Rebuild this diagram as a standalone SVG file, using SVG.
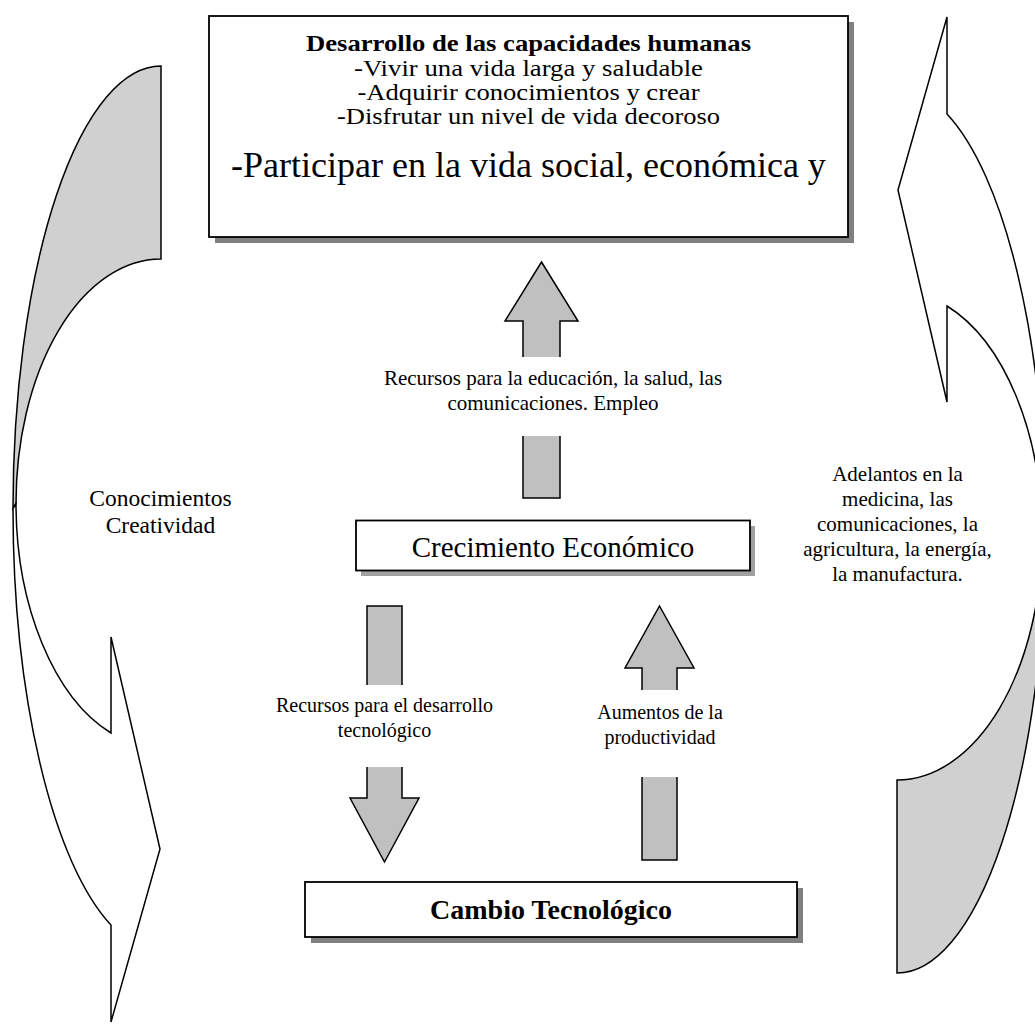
<svg xmlns="http://www.w3.org/2000/svg" width="1035" height="1028" viewBox="0 0 1035 1028">
<style>
text{font-family:"Liberation Serif","Times New Roman",serif;fill:#000;text-anchor:middle}
.box{fill:#fff;stroke:#000;stroke-width:1.8}
.shadow{fill:#808080}
.block{fill:#c0c0c0;stroke:#000;stroke-width:1.5;stroke-linejoin:miter}
.back{fill:#d0d0d0;stroke:#000;stroke-width:1.5}
.front{fill:#fff;stroke:#000;stroke-width:1.5}
.gap{fill:#fff}
.lbl{font-size:21px}
.lbl2{font-size:20px}
</style>
<rect width="1035" height="1028" fill="#fff"/>

<g id="connectors">
  <g id="curved-left">
    <path class="back" d="M161,66 A148,442.5 0 0 0 13,508.5 L16,503.5 A145,244.5 0 0 1 161,259 Z"/>
    <path class="front" d="M13,508.5 A148,442.5 0 0 0 111,925 L111,1022 L160,849 L111,637 L111,733 A145,244.5 0 0 1 16,503.5 Z"/>
  </g>
  <g id="curved-right" transform="rotate(180 529 519.5)">
    <path class="back" d="M161,66 A148,442.5 0 0 0 13,508.5 L16,503.5 A145,244.5 0 0 1 161,259 Z"/>
    <path class="front" d="M13,508.5 A148,442.5 0 0 0 111,925 L111,1022 L160,849 L111,637 L111,733 A145,244.5 0 0 1 16,503.5 Z"/>
  </g>
  <g id="arrow-econ-to-human">
    <polygon class="block" points="541.5,262 578,321 560,321 560,498 523,498 523,321 505,321"/>
    <rect class="gap" x="375" y="357" width="360" height="79"/>
    <text class="lbl" x="553" y="385">Recursos para la educación, la salud, las</text>
    <text class="lbl" x="553" y="410">comunicaciones. Empleo</text>
  </g>
  <g id="arrow-econ-to-tech">
    <polygon class="block" points="367,606 402,606 402,798 419,798 384.5,862 350,798 367,798"/>
    <rect class="gap" x="270" y="685" width="230" height="82"/>
    <text class="lbl2" x="384.5" y="712">Recursos para el desarrollo</text>
    <text class="lbl2" x="384.5" y="737">tecnológico</text>
  </g>
  <g id="arrow-tech-to-econ">
    <polygon class="block" points="659.5,606 694,668 677,668 677,860 642,860 642,668 625,668"/>
    <rect class="gap" x="590" y="690" width="140" height="87"/>
    <text class="lbl2" x="660" y="719">Aumentos de la</text>
    <text class="lbl2" x="660" y="744">productividad</text>
  </g>
  <g id="label-left">
    <text x="160.5" y="506" style="font-size:23.5px">Conocimientos</text>
    <text x="160.5" y="533" style="font-size:23.5px">Creatividad</text>
  </g>
  <g id="label-right">
    <text class="lbl" x="897.5" y="481">Adelantos en la</text>
    <text class="lbl" x="897.5" y="506">medicina, las</text>
    <text class="lbl" x="897.5" y="531">comunicaciones, la</text>
    <text class="lbl" x="897.5" y="556">agricultura, la energía,</text>
    <text class="lbl" x="897.5" y="581">la manufactura.</text>
  </g>
</g>

<g id="node-desarrollo">
  <rect class="shadow" x="215" y="22" width="639" height="221"/>
  <rect class="box" x="209" y="16" width="639" height="221"/>
  <text x="528.5" y="51" style="font-size:24px;font-weight:bold" textLength="445" lengthAdjust="spacingAndGlyphs">Desarrollo de las capacidades humanas</text>
  <text x="528.5" y="76" style="font-size:24px" textLength="349" lengthAdjust="spacingAndGlyphs">-Vivir una vida larga y saludable</text>
  <text x="528.5" y="100" style="font-size:24px" textLength="342" lengthAdjust="spacingAndGlyphs">-Adquirir conocimientos y crear</text>
  <text x="528.5" y="124" style="font-size:24px" textLength="383" lengthAdjust="spacingAndGlyphs">-Disfrutar un nivel de vida decoroso</text>
  <text x="528.5" y="177" style="font-size:36px">-Participar en la vida social, económica y</text>
</g>

<g id="node-crecimiento">
  <rect x="361" y="526" width="394" height="50" fill="#a0a0a0"/>
  <rect class="box" x="356" y="520.5" width="394" height="50"/>
  <text x="553" y="557" style="font-size:29px">Crecimiento Económico</text>
</g>

<g id="node-cambio">
  <rect class="shadow" x="311" y="888" width="492" height="55"/>
  <rect class="box" x="305" y="882" width="492" height="55"/>
  <text x="551" y="919" style="font-size:28px;font-weight:bold">Cambio Tecnológico</text>
</g>
</svg>
